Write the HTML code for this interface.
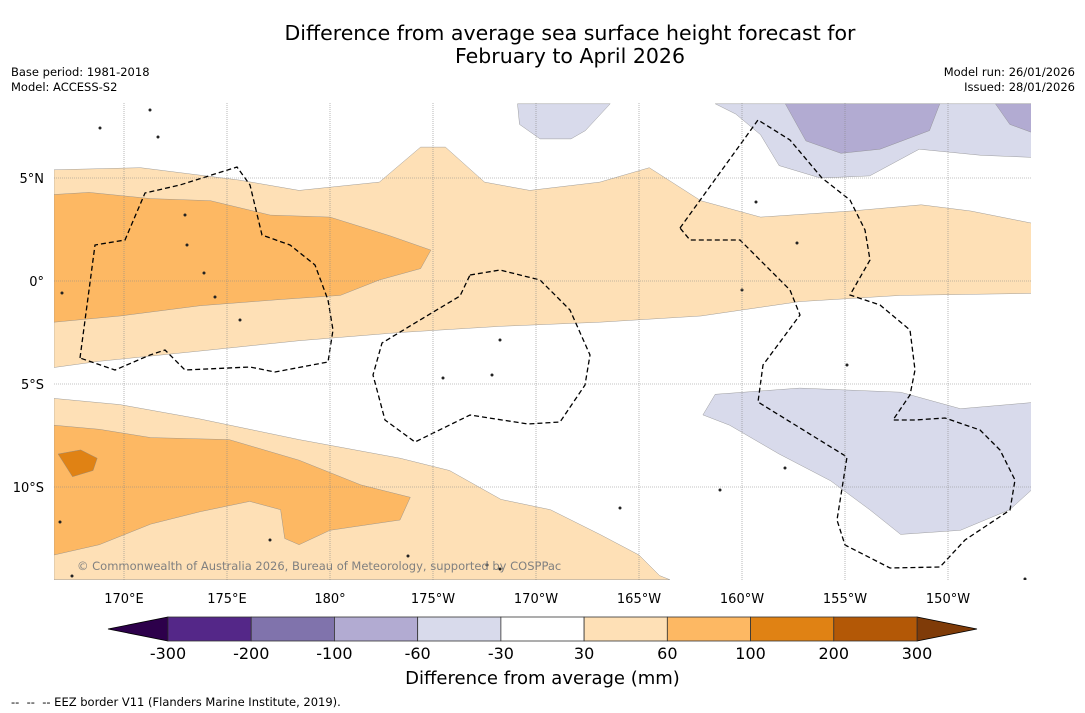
<!DOCTYPE html>
<html><head><meta charset="utf-8">
<style>
body{margin:0;background:#fff;font-family:"DejaVu Sans","Liberation Sans",sans-serif;}
#wrap{position:relative;width:1085px;height:713px;overflow:hidden;background:#fff}
.t{position:absolute;white-space:nowrap;color:#000}
</style></head><body>
<div id="wrap">
<div class="t" style="left:0;width:1140px;top:22px;text-align:center;font-size:20.5px;line-height:23px">Difference from average sea surface height forecast for<br>February to April 2026</div>
<div class="t" style="left:11px;top:65px;font-size:11.5px;line-height:15px">Base period: 1981-2018<br>Model: ACCESS-S2</div>
<div class="t" style="right:10px;top:65px;font-size:11.5px;line-height:15px;text-align:right">Model run: 26/01/2026<br>Issued: 28/01/2026</div>
<svg id="map" width="1085" height="713" style="position:absolute;left:0;top:0"></svg>
<div class="t" style="left:0;width:1085px;top:668px;text-align:center;font-size:18px">Difference from average (mm)</div>
<div class="t" style="left:11px;top:695px;font-size:11.5px">--&nbsp; --&nbsp; -- EEZ border V11 (Flanders Marine Institute, 2019).</div>
</div>
<script>
// Map axis data
const lonTicks=[170,175,180,185,190,195,200,205,210];
const lonLabels=["170°E","175°E","180°","175°W","170°W","165°W","160°W","155°W","150°W"];
const latTicks=[5,0,-5,-10];
const latLabels=["5°N","0°","5°S","10°S"];
// Contour polygons [lon(0-360), lat]
const north30=[[166.6,5.4],[170.8,5.5],[175.6,4.9],[178.5,4.4],[182.4,4.8],[184.4,6.5],[185.6,6.5],[187.5,4.8],[189.7,4.4],[193.1,4.8],[195.5,5.5],[198,3.9],[200.9,3.1],[205.3,3.4],[208.7,3.7],[211.1,3.4],[214.1,2.8],[214.1,-0.6],[207.7,-0.7],[202.8,-1.0],[198,-1.7],[193.1,-2.0],[188.3,-2.2],[183.4,-2.5],[178.5,-2.9],[173.7,-3.4],[168.8,-3.9],[166.6,-4.2]];
const north60=[[166.6,4.2],[168.3,4.3],[171.3,4.0],[174.2,3.9],[177.1,3.2],[180,3.1],[182.9,2.2],[184.9,1.5],[184.4,0.6],[182.4,0.05],[180.5,-0.7],[177.6,-0.9],[173.7,-1.2],[169.8,-1.7],[166.6,-2.0]];
const south30=[[166.6,-5.7],[169.8,-6.0],[173.7,-6.7],[178.5,-7.7],[183.4,-8.6],[185.8,-9.2],[188.3,-10.6],[190.7,-11.1],[193.1,-12.3],[195,-13.3],[196,-14.3],[196.5,-14.5],[166.6,-14.5]];
const south60=[[166.6,-7.0],[168.8,-7.2],[171.3,-7.6],[175.1,-7.7],[178.5,-8.7],[181.5,-9.9],[183.9,-10.5],[183.4,-11.6],[180,-12.1],[178.5,-12.8],[177.8,-12.5],[177.6,-11.1],[176.1,-10.7],[173.7,-11.2],[171.3,-11.8],[168.8,-12.8],[166.6,-13.3]];
const south100=[[166.8,-8.4],[167.9,-8.2],[168.7,-8.6],[168.5,-9.2],[167.5,-9.5]];
const blueA=[[189.1,8.6],[193.6,8.6],[192.4,7.3],[191.7,6.9],[190.2,6.9],[189.2,7.6]];
const blueB=[[198.7,8.6],[214.1,8.6],[214.1,6.0],[211.6,6.1],[208.6,6.4],[206.2,5.1],[203.8,5.0],[201.8,5.6],[200.9,7.1],[199.7,8.1]];
const purpleA=[[202.1,8.6],[209.6,8.6],[209.1,7.3],[206.7,6.4],[204.8,6.2],[203.1,6.8]];
const purpleB=[[212.3,8.6],[214.1,8.6],[214.1,7.2],[213,7.6]];
const blueC=[[198.1,-6.5],[198.7,-5.5],[202.8,-5.2],[207.7,-5.4],[210.6,-6.2],[214.1,-5.9],[214.1,-10.1],[213,-11.1],[210.6,-12.1],[207.7,-12.3],[206.2,-11.1],[204.3,-9.7],[201.8,-8.4],[199.4,-7.0]];
// Colorbar
const cbBounds=["-300","-200","-100","-60","-30","30","60","100","200","300"];
const cbColors=["#542788","#8073ac","#b2abd2","#d8daeb","#ffffff","#fee0b6","#fdb863","#e08214","#b35806"];

const L=54,R=1031,T=103,B=580;
const x=lon=>124+(lon-170)*20.6;
const y=lat=>281-lat*20.6;
const svg=document.getElementById('map');
const NS='http://www.w3.org/2000/svg';
function mk(tag,attrs){const e=document.createElementNS(NS,tag);for(const k in attrs)e.setAttribute(k,attrs[k]);svg.appendChild(e);return e;}
const defs=mk('defs',{});
const cp=document.createElementNS(NS,'clipPath');cp.setAttribute('id','clip');
const cr=document.createElementNS(NS,'rect');cr.setAttribute('x',L);cr.setAttribute('y',T);cr.setAttribute('width',R-L);cr.setAttribute('height',B-T);
cp.appendChild(cr);defs.appendChild(cp);
const g=mk('g',{'clip-path':'url(#clip)'});
function poly(pts,fill,name){const p=document.createElementNS(NS,'polygon');
p.setAttribute('points',pts.map(q=>x(q[0]).toFixed(1)+','+y(q[1]).toFixed(1)).join(' '));
p.setAttribute('fill',fill);p.setAttribute('stroke','#888');p.setAttribute('stroke-width','0.4');


g.appendChild(p);}
poly(north30,'#fee0b6','contour-north-30-60');
poly(north60,'#fdb863','contour-north-60-100');
poly(south30,'#fee0b6','contour-south-30-60');
poly(south60,'#fdb863','contour-south-60-100');
poly(south100,'#e08214','contour-south-100-200');
poly(blueA,'#d8daeb','contour-blue-a');
poly(blueB,'#d8daeb','contour-blue-b');
poly(purpleA,'#b2abd2','contour-purple-a');
poly(purpleB,'#b2abd2','contour-purple-b');
poly(blueC,'#d8daeb','contour-blue-c');
// grid
lonTicks.forEach((v,i)=>{
 const l=mk('line',{x1:x(v),x2:x(v),y1:T,y2:B,stroke:'#888','stroke-width':0.6,'stroke-dasharray':'1,1'});
 
 
 const t=mk('text',{x:x(v),y:603,'text-anchor':'middle','font-size':13});
 t.textContent=lonLabels[i];
 
 
});
latTicks.forEach((v,i)=>{
 const l=mk('line',{x1:L,x2:R,y1:y(v),y2:y(v),stroke:'#888','stroke-width':0.6,'stroke-dasharray':'1,1'});
 
 
 const t=mk('text',{x:44,y:y(v)+5,'text-anchor':'end','font-size':13});
 t.textContent=latLabels[i];
 
 
});
// EEZ borders (map decoration)
const eez=[
"M80,358 L95,245 L125,240 L145,193 L180,185 L237,167 L250,185 L262,235 L290,245 L315,265 L328,300 L333,330 L328,362 L275,372 L250,367 L185,370 L165,350 L150,355 L115,370 Z",
"M470,275 L500,270 L540,280 L570,310 L590,355 L585,385 L560,422 L528,424 L470,415 L415,442 L385,420 L373,375 L382,343 L420,320 L460,296 Z",
"M680,228 L758,120 L790,140 L822,178 L850,200 L865,230 L870,260 L850,295 L880,305 L910,330 L915,370 L910,395 L893,420 L915,420 L945,418 L980,430 L1000,450 L1015,480 L1010,510 L965,540 L940,567 L890,568 L845,545 L837,520 L847,457 L758,402 L763,365 L800,315 L790,290 L760,260 L740,240 L690,240 Z"];
eez.forEach(d=>{const p=document.createElementNS(NS,'path');p.setAttribute('d',d);p.setAttribute('fill','none');p.setAttribute('stroke','#000');p.setAttribute('stroke-width','1.3');p.setAttribute('stroke-dasharray','5,3');


g.appendChild(p);});
// islands
[[150,110],[100,128],[158,137],[185,215],[187,245],[204,273],[215,297],[240,320],[62,293],[500,340],[443,378],[492,375],[742,290],[756,202],[797,243],[847,365],[720,490],[785,468],[60,522],[72,576],[487,565],[500,569],[270,540],[408,556],[620,508],[1025,579]].forEach(q=>{
 const c=document.createElementNS(NS,'circle');c.setAttribute('cx',q[0]);c.setAttribute('cy',q[1]);c.setAttribute('r',1.5);c.setAttribute('fill','#222');
 
 
 g.appendChild(c);});
const cpy=mk('text',{x:77,y:570,'font-size':11.5,fill:'#808080'});
cpy.textContent='© Commonwealth of Australia 2026, Bureau of Meteorology, supported by COSPPac';


// colorbar
const c0=168,c1=917,cy0=617,cy1=641,w=(c1-c0)/cbColors.length;
const lt=mk('polygon',{points:`108,629 ${c0},${cy0} ${c0},${cy1}`,fill:'#2d004b',stroke:'#000','stroke-width':0.8});


const rt=mk('polygon',{points:`977,629 ${c1},${cy0} ${c1},${cy1}`,fill:'#7f3b08',stroke:'#000','stroke-width':0.8});


cbColors.forEach((col,i)=>{
 const r=mk('rect',{x:c0+i*w,y:cy0,width:w,height:cy1-cy0,fill:col,stroke:'#333','stroke-width':0.8});
 
 
});
cbBounds.forEach((s,i)=>{
 const t=mk('text',{x:c0+i*w,y:659,'text-anchor':'middle','font-size':16});
 t.textContent=s;
 
 
});
</script>
</body></html>
